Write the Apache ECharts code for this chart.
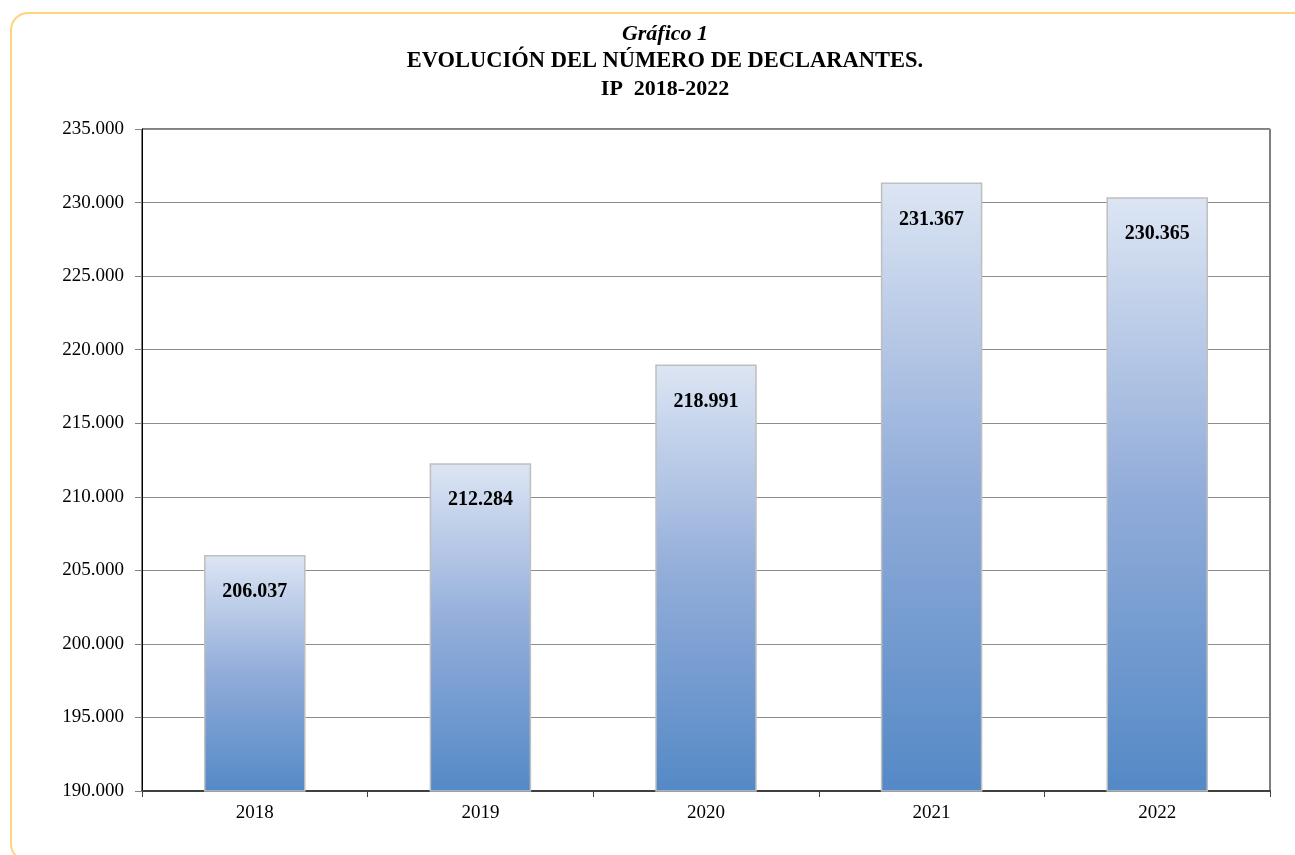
<!DOCTYPE html>
<html>
<head>
<meta charset="utf-8">
<script src="https://cdn.jsdelivr.net/npm/echarts@6/dist/echarts.min.js"></script>
<style>
  html, body { margin: 0; padding: 0; background: #fff; overflow: hidden; }
  #frame {
    position: absolute; left: 10px; top: 12px; width: 1310px; height: 850px;
    border: 2px solid #FFD47F; border-radius: 18px; box-sizing: border-box;
  }
  #chart { position: absolute; left: 0; top: 0; width: 1295px; height: 855px; }
</style>
</head>
<body>
<div id="frame"></div>
<div id="chart"></div>
<script>
// datos del gráfico
const years = ['2018', '2019', '2020', '2021', '2022']
const declarantes = [206037, 212284, 218991, 231367, 230365]
const titleLines = ['Gráfico 1', 'EVOLUCIÓN DEL NÚMERO DE DECLARANTES.', 'IP  2018-2022']

const serif = '"Liberation Serif", "Times New Roman", serif'

function fmtMiles(v) {
  return String(Math.round(v)).replace(/\B(?=(\d{3})+(?!\d))/g, '.')
}

const myChart = echarts.init(document.getElementById('chart'), null, { renderer: 'canvas' })

const titleX = 665

const option = {
  animation: false,
  title: [
    {
      text: titleLines[0], left: titleX, top: 23, textAlign: 'center', padding: 0,
      textStyle: { fontFamily: serif, fontSize: 22, fontWeight: 'bold', fontStyle: 'italic', color: '#000' }
    },
    {
      text: titleLines[1], left: titleX, top: 50, textAlign: 'center', padding: 0,
      textStyle: { fontFamily: serif, fontSize: 22.5, fontWeight: 'bold', color: '#000' }
    },
    {
      text: titleLines[2], left: titleX, top: 78, textAlign: 'center', padding: 0,
      textStyle: { fontFamily: serif, fontSize: 22, fontWeight: 'bold', color: '#000' }
    }
  ],
  grid: {
    left: 142, top: 129, right: 25, bottom: 64,
    show: true, borderColor: '#000', borderWidth: 1, backgroundColor: 'transparent'
  },
  xAxis: {
    type: 'category',
    data: years,
    axisLine: { lineStyle: { color: '#404040', width: 2 } },
    axisTick: { show: true, alignWithLabel: false, length: 6, lineStyle: { color: '#404040' } },
    axisLabel: { fontFamily: serif, fontSize: 19, color: '#000', margin: 13 },
    splitLine: { show: false }
  },
  yAxis: {
    type: 'value',
    min: 190000,
    max: 235000,
    interval: 5000,
    axisLine: { show: true, lineStyle: { color: '#000', width: 1 } },
    axisTick: { show: true, length: 7, lineStyle: { color: '#808080' } },
    axisLabel: {
      fontFamily: serif, fontSize: 19, color: '#000', margin: 18,
      formatter: v => fmtMiles(v)
    },
    splitLine: { show: true, lineStyle: { color: '#8c8c8c', width: 1 } }
  },
  series: [
    {
      name: 'Declarantes',
      type: 'bar',
      data: declarantes,
      barWidth: '45%',
      itemStyle: {
        borderColor: '#BFBFBF',
        borderWidth: 1.5,
        color: new echarts.graphic.LinearGradient(0, 0, 0, 1, [
          { offset: 0, color: '#DCE5F3' },
          { offset: 0.5, color: '#91ACD9' },
          { offset: 1, color: '#5489C6' }
        ])
      },
      label: {
        show: true,
        position: 'insideTop',
        distance: 27,
        fontFamily: serif,
        fontSize: 20,
        fontWeight: 'bold',
        color: '#000',
        formatter: p => fmtMiles(p.value)
      }
    }
  ]
}

myChart.setOption(option)
</script>
</body>
</html>
